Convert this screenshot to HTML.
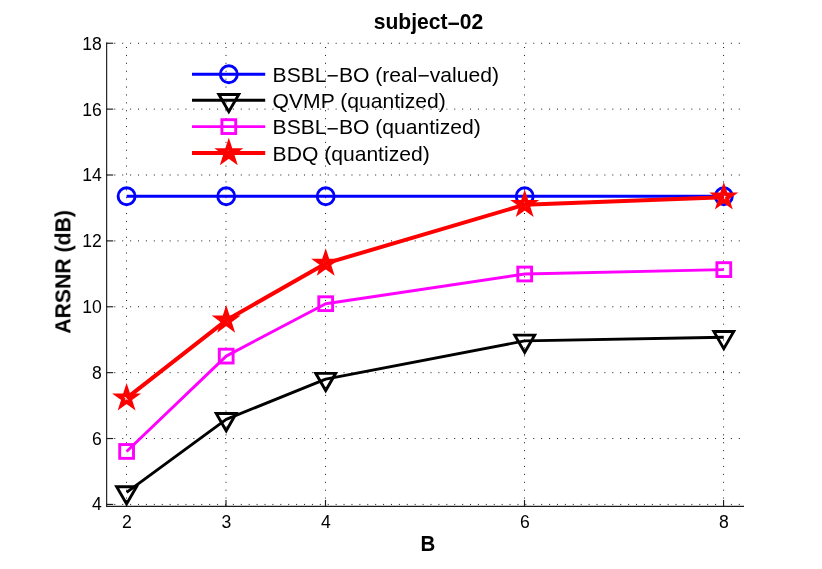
<!DOCTYPE html>
<html><head><meta charset="utf-8"><title>subject-02</title>
<style>
html,body{margin:0;padding:0;background:#fff;}
body{width:822px;height:569px;overflow:hidden;}
svg{display:block;}
text{font-family:"Liberation Sans",sans-serif;fill:#000;}
text{filter:url(#idf);}
.tk{font-size:17.6px;}
.lg{font-size:21.1px;}
.b{font-weight:bold;font-size:21.1px;}
</style></head><body>
<svg width="822" height="569" viewBox="0 0 822 569">
<defs><filter id="idf" x="-5%" y="-20%" width="110%" height="140%" color-interpolation-filters="sRGB"><feOffset dx="0" dy="0"/></filter></defs>
<rect width="822" height="569" fill="#fff"/>
<g stroke="#1a1a1a" stroke-width="1" stroke-dasharray="1 6.905" fill="none">
<line x1="106.4" y1="504.41" x2="740.5" y2="504.41"/>
<line x1="106.4" y1="438.53" x2="740.5" y2="438.53"/>
<line x1="106.4" y1="372.65" x2="740.5" y2="372.65"/>
<line x1="106.4" y1="306.77" x2="740.5" y2="306.77"/>
<line x1="106.4" y1="240.89" x2="740.5" y2="240.89"/>
<line x1="106.4" y1="175.01" x2="740.5" y2="175.01"/>
<line x1="106.4" y1="109.13" x2="740.5" y2="109.13"/>
<line x1="106.4" y1="43.25" x2="740.5" y2="43.25"/>
<line x1="126.50" y1="506.5" x2="126.50" y2="43.1"/>
<line x1="226.00" y1="506.5" x2="226.00" y2="43.1"/>
<line x1="325.50" y1="506.5" x2="325.50" y2="43.1"/>
<line x1="524.50" y1="506.5" x2="524.50" y2="43.1"/>
<line x1="723.55" y1="506.5" x2="723.55" y2="43.1"/>
</g>
<g stroke="#1c1c1c" stroke-width="1.15" fill="none">
<line x1="106.65" y1="42.6" x2="106.65" y2="506.90000000000003"/>
<line x1="106.1" y1="506.3" x2="744.0" y2="506.3"/>
<line x1="106.65" y1="504.41" x2="113.2" y2="504.41"/>
<line x1="106.65" y1="438.53" x2="113.2" y2="438.53"/>
<line x1="106.65" y1="372.65" x2="113.2" y2="372.65"/>
<line x1="106.65" y1="306.77" x2="113.2" y2="306.77"/>
<line x1="106.65" y1="240.89" x2="113.2" y2="240.89"/>
<line x1="106.65" y1="175.01" x2="113.2" y2="175.01"/>
<line x1="106.65" y1="109.13" x2="113.2" y2="109.13"/>
<line x1="106.65" y1="43.25" x2="113.2" y2="43.25"/>
<line x1="126.50" y1="506.3" x2="126.50" y2="500.0"/>
<line x1="226.00" y1="506.3" x2="226.00" y2="500.0"/>
<line x1="325.50" y1="506.3" x2="325.50" y2="500.0"/>
<line x1="524.50" y1="506.3" x2="524.50" y2="500.0"/>
<line x1="723.55" y1="506.3" x2="723.55" y2="500.0"/>
</g>
<text class="tk" x="101.9" y="510.36" text-anchor="end">4</text>
<text class="tk" x="101.9" y="444.57" text-anchor="end">6</text>
<text class="tk" x="101.9" y="378.77" text-anchor="end">8</text>
<text class="tk" x="101.9" y="312.98" text-anchor="end">10</text>
<text class="tk" x="101.9" y="247.18" text-anchor="end">12</text>
<text class="tk" x="101.9" y="181.39" text-anchor="end">14</text>
<text class="tk" x="101.9" y="115.59" text-anchor="end">16</text>
<text class="tk" x="101.9" y="49.80" text-anchor="end">18</text>
<text class="tk" x="126.90" y="528.1" text-anchor="middle">2</text>
<text class="tk" x="226.40" y="528.1" text-anchor="middle">3</text>
<text class="tk" x="325.90" y="528.1" text-anchor="middle">4</text>
<text class="tk" x="524.90" y="528.1" text-anchor="middle">6</text>
<text class="tk" x="723.95" y="528.1" text-anchor="middle">8</text>
<text class="b" transform="translate(428.5 28.5) scale(1 1.03)" text-anchor="middle">subject<tspan dy="2">−</tspan><tspan dy="-2">02</tspan></text>
<text class="b" transform="translate(427.8 551.2) scale(0.97 1.04)" text-anchor="middle">B</text>
<text class="b" transform="translate(70.4 271.9) rotate(-90) scale(1.005 1.05)" text-anchor="middle">ARSNR (dB)</text>
<polyline points="126.60,196.30 226.20,196.30 325.70,196.30 524.70,196.30 723.80,196.30" fill="none" stroke="#0000ff" stroke-width="2.9" stroke-linejoin="round" stroke-linecap="butt"/>
<circle cx="126.60" cy="196.30" r="8.5" fill="none" stroke="#0000ff" stroke-width="2.9"/>
<circle cx="226.20" cy="196.30" r="8.5" fill="none" stroke="#0000ff" stroke-width="2.9"/>
<circle cx="325.70" cy="196.30" r="8.5" fill="none" stroke="#0000ff" stroke-width="2.9"/>
<circle cx="524.70" cy="196.30" r="8.5" fill="none" stroke="#0000ff" stroke-width="2.9"/>
<circle cx="723.80" cy="196.30" r="8.5" fill="none" stroke="#0000ff" stroke-width="2.9"/>
<polyline points="126.60,492.45 226.20,419.30 325.70,379.10 524.70,340.90 723.80,337.20" fill="none" stroke="#000" stroke-width="2.9" stroke-linejoin="round" stroke-linecap="butt"/>
<polygon points="116.64,486.70 136.56,486.70 126.60,503.95" fill="none" stroke="#000" stroke-width="2.9" stroke-linejoin="miter" stroke-miterlimit="10"/>
<polygon points="216.24,413.55 236.16,413.55 226.20,430.80" fill="none" stroke="#000" stroke-width="2.9" stroke-linejoin="miter" stroke-miterlimit="10"/>
<polygon points="315.74,373.35 335.66,373.35 325.70,390.60" fill="none" stroke="#000" stroke-width="2.9" stroke-linejoin="miter" stroke-miterlimit="10"/>
<polygon points="514.74,335.15 534.66,335.15 524.70,352.40" fill="none" stroke="#000" stroke-width="2.9" stroke-linejoin="miter" stroke-miterlimit="10"/>
<polygon points="713.84,331.45 733.76,331.45 723.80,348.70" fill="none" stroke="#000" stroke-width="2.9" stroke-linejoin="miter" stroke-miterlimit="10"/>
<polyline points="126.60,451.45 226.20,356.10 325.70,303.70 524.70,274.00 723.80,269.60" fill="none" stroke="#ff00ff" stroke-width="2.9" stroke-linejoin="round" stroke-linecap="butt"/>
<rect x="119.70" y="444.55" width="13.8" height="13.8" fill="none" stroke="#ff00ff" stroke-width="2.9"/>
<rect x="219.30" y="349.20" width="13.8" height="13.8" fill="none" stroke="#ff00ff" stroke-width="2.9"/>
<rect x="318.80" y="296.80" width="13.8" height="13.8" fill="none" stroke="#ff00ff" stroke-width="2.9"/>
<rect x="517.80" y="267.10" width="13.8" height="13.8" fill="none" stroke="#ff00ff" stroke-width="2.9"/>
<rect x="716.90" y="262.70" width="13.8" height="13.8" fill="none" stroke="#ff00ff" stroke-width="2.9"/>
<polyline points="126.60,398.20 226.20,320.30 325.70,263.40 524.70,204.70 723.80,197.20" fill="none" stroke="#ff0000" stroke-width="4.0" stroke-linejoin="round" stroke-linecap="butt"/>
<polygon points="126.60,389.20 128.64,395.40 135.16,395.42 129.90,399.27 131.89,405.48 126.60,401.66 121.31,405.48 123.30,399.27 118.04,395.42 124.56,395.40" fill="none" stroke="#ff0000" stroke-width="3.9" stroke-linejoin="miter" stroke-miterlimit="10"/>
<polygon points="226.20,311.30 228.24,317.50 234.76,317.52 229.50,321.37 231.49,327.58 226.20,323.76 220.91,327.58 222.90,321.37 217.64,317.52 224.16,317.50" fill="none" stroke="#ff0000" stroke-width="3.9" stroke-linejoin="miter" stroke-miterlimit="10"/>
<polygon points="325.70,254.40 327.74,260.60 334.26,260.62 329.00,264.47 330.99,270.68 325.70,266.86 320.41,270.68 322.40,264.47 317.14,260.62 323.66,260.60" fill="none" stroke="#ff0000" stroke-width="3.9" stroke-linejoin="miter" stroke-miterlimit="10"/>
<polygon points="524.70,195.70 526.74,201.90 533.26,201.92 528.00,205.77 529.99,211.98 524.70,208.16 519.41,211.98 521.40,205.77 516.14,201.92 522.66,201.90" fill="none" stroke="#ff0000" stroke-width="3.9" stroke-linejoin="miter" stroke-miterlimit="10"/>
<polygon points="723.80,188.20 725.84,194.40 732.36,194.42 727.10,198.27 729.09,204.48 723.80,200.66 718.51,204.48 720.50,198.27 715.24,194.42 721.76,194.40" fill="none" stroke="#ff0000" stroke-width="3.9" stroke-linejoin="miter" stroke-miterlimit="10"/>
<line x1="192.0" y1="74.2" x2="265.2" y2="74.2" stroke="#0000ff" stroke-width="2.9"/>
<circle cx="228.80" cy="74.20" r="8.5" fill="none" stroke="#0000ff" stroke-width="2.9"/>
<text class="lg" x="272.6" y="81.6">BSBL<tspan dy="1.8">−</tspan><tspan dy="-1.8">BO (real</tspan><tspan dy="1.8">−</tspan><tspan dy="-1.8">valued)</tspan></text>
<line x1="192.0" y1="100.2" x2="265.2" y2="100.2" stroke="#000" stroke-width="2.9"/>
<polygon points="218.84,94.45 238.76,94.45 228.80,111.70" fill="none" stroke="#000" stroke-width="2.9" stroke-linejoin="miter" stroke-miterlimit="10"/>
<text class="lg" x="272.6" y="108.0">QVMP (quantized)</text>
<line x1="192.0" y1="126.6" x2="265.2" y2="126.6" stroke="#ff00ff" stroke-width="2.9"/>
<rect x="221.90" y="119.70" width="13.8" height="13.8" fill="none" stroke="#ff00ff" stroke-width="2.9"/>
<text class="lg" x="272.6" y="134.3">BSBL<tspan dy="1.8">−</tspan><tspan dy="-1.8">BO (quantized)</tspan></text>
<line x1="192.0" y1="152.9" x2="265.2" y2="152.9" stroke="#ff0000" stroke-width="4.0"/>
<polygon points="228.80,143.90 230.84,150.10 237.36,150.12 232.10,153.97 234.09,160.18 228.80,156.37 223.51,160.18 225.50,153.97 220.24,150.12 226.76,150.10" fill="none" stroke="#ff0000" stroke-width="3.9" stroke-linejoin="miter" stroke-miterlimit="10"/>
<text class="lg" x="272.6" y="160.6">BDQ (quantized)</text>
</svg></body></html>
